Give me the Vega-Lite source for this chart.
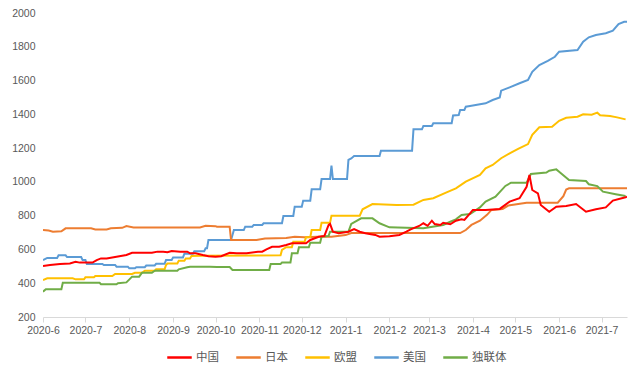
{
"$schema": "https://vega.github.io/schema/vega-lite/v6.json",
"width": 584,
"height": 304,
"autosize": {"type": "none"},
"padding": {"left": 43, "top": 13, "right": 14, "bottom": 60},
"background": "white",
"config": {"view": {"stroke": null}},
"data": {"values": [
{"s":"美国","d":"2020-06-01","v":537},{"s":"美国","d":"2020-06-04","v":550},{"s":"美国","d":"2020-06-11","v":550},{"s":"美国","d":"2020-06-12","v":565},{"s":"美国","d":"2020-06-17","v":565},{"s":"美国","d":"2020-06-18","v":555},{"s":"美国","d":"2020-06-28","v":555},{"s":"美国","d":"2020-06-29","v":537},{"s":"美国","d":"2020-07-01","v":537},{"s":"美国","d":"2020-07-02","v":514},{"s":"美国","d":"2020-07-13","v":514},{"s":"美国","d":"2020-07-14","v":508},{"s":"美国","d":"2020-07-22","v":508},{"s":"美国","d":"2020-07-23","v":498},{"s":"美国","d":"2020-07-31","v":498},{"s":"美国","d":"2020-08-01","v":488},{"s":"美国","d":"2020-08-05","v":488},{"s":"美国","d":"2020-08-06","v":495},{"s":"美国","d":"2020-08-12","v":495},{"s":"美国","d":"2020-08-13","v":505},{"s":"美国","d":"2020-08-19","v":505},{"s":"美国","d":"2020-08-20","v":515},{"s":"美国","d":"2020-08-26","v":515},{"s":"美国","d":"2020-08-27","v":537},{"s":"美国","d":"2020-08-31","v":537},{"s":"美国","d":"2020-09-01","v":553},{"s":"美国","d":"2020-09-08","v":553},{"s":"美国","d":"2020-09-09","v":575},{"s":"美国","d":"2020-09-15","v":575},{"s":"美国","d":"2020-09-16","v":590},{"s":"美国","d":"2020-09-23","v":590},{"s":"美国","d":"2020-09-24","v":607},{"s":"美国","d":"2020-09-25","v":607},{"s":"美国","d":"2020-09-26","v":656},{"s":"美国","d":"2020-10-12","v":656},{"s":"美国","d":"2020-10-14","v":715},{"s":"美国","d":"2020-10-21","v":715},{"s":"美国","d":"2020-10-22","v":735},{"s":"美国","d":"2020-10-27","v":735},{"s":"美国","d":"2020-10-28","v":745},{"s":"美国","d":"2020-11-03","v":745},{"s":"美国","d":"2020-11-04","v":755},{"s":"美国","d":"2020-11-17","v":755},{"s":"美国","d":"2020-11-18","v":798},{"s":"美国","d":"2020-11-25","v":798},{"s":"美国","d":"2020-11-26","v":853},{"s":"美国","d":"2020-12-01","v":853},{"s":"美国","d":"2020-12-02","v":889},{"s":"美国","d":"2020-12-07","v":889},{"s":"美国","d":"2020-12-08","v":956},{"s":"美国","d":"2020-12-14","v":956},{"s":"美国","d":"2020-12-15","v":1017},{"s":"美国","d":"2020-12-21","v":1017},{"s":"美国","d":"2020-12-22","v":1096},{"s":"美国","d":"2020-12-23","v":1017},{"s":"美国","d":"2021-01-02","v":1017},{"s":"美国","d":"2021-01-03","v":1130},{"s":"美国","d":"2021-01-05","v":1139},{"s":"美国","d":"2021-01-07","v":1153},{"s":"美国","d":"2021-01-25","v":1153},{"s":"美国","d":"2021-01-26","v":1185},{"s":"美国","d":"2021-02-17","v":1185},{"s":"美国","d":"2021-02-18","v":1311},{"s":"美国","d":"2021-02-24","v":1311},{"s":"美国","d":"2021-02-25","v":1331},{"s":"美国","d":"2021-03-03","v":1331},{"s":"美国","d":"2021-03-04","v":1347},{"s":"美国","d":"2021-03-17","v":1347},{"s":"美国","d":"2021-03-18","v":1393},{"s":"美国","d":"2021-03-22","v":1396},{"s":"美国","d":"2021-03-23","v":1426},{"s":"美国","d":"2021-03-26","v":1426},{"s":"美国","d":"2021-03-27","v":1445},{"s":"美国","d":"2021-03-30","v":1449},{"s":"美国","d":"2021-04-10","v":1465},{"s":"美国","d":"2021-04-15","v":1485},{"s":"美国","d":"2021-04-20","v":1500},{"s":"美国","d":"2021-04-21","v":1540},{"s":"美国","d":"2021-04-27","v":1560},{"s":"美国","d":"2021-05-04","v":1584},{"s":"美国","d":"2021-05-10","v":1603},{"s":"美国","d":"2021-05-13","v":1652},{"s":"美国","d":"2021-05-18","v":1692},{"s":"美国","d":"2021-05-24","v":1716},{"s":"美国","d":"2021-05-29","v":1741},{"s":"美国","d":"2021-06-01","v":1771},{"s":"美国","d":"2021-06-14","v":1781},{"s":"美国","d":"2021-06-18","v":1830},{"s":"美国","d":"2021-06-22","v":1856},{"s":"美国","d":"2021-06-27","v":1870},{"s":"美国","d":"2021-07-04","v":1880},{"s":"美国","d":"2021-07-09","v":1896},{"s":"美国","d":"2021-07-13","v":1935},{"s":"美国","d":"2021-07-17","v":1948},{"s":"美国","d":"2021-07-19","v":1948},
{"s":"日本","d":"2020-06-01","v":715},{"s":"日本","d":"2020-06-05","v":712},{"s":"日本","d":"2020-06-08","v":705},{"s":"日本","d":"2020-06-14","v":707},{"s":"日本","d":"2020-06-17","v":725},{"s":"日本","d":"2020-07-05","v":725},{"s":"日本","d":"2020-07-08","v":718},{"s":"日本","d":"2020-07-16","v":718},{"s":"日本","d":"2020-07-19","v":725},{"s":"日本","d":"2020-07-27","v":728},{"s":"日本","d":"2020-07-30","v":738},{"s":"日本","d":"2020-08-04","v":730},{"s":"日本","d":"2020-09-20","v":730},{"s":"日本","d":"2020-09-24","v":740},{"s":"日本","d":"2020-10-01","v":738},{"s":"日本","d":"2020-10-02","v":735},{"s":"日本","d":"2020-10-11","v":735},{"s":"日本","d":"2020-10-12","v":656},{"s":"日本","d":"2020-10-30","v":656},{"s":"日本","d":"2020-11-05","v":665},{"s":"日本","d":"2020-11-20","v":668},{"s":"日本","d":"2020-11-26","v":675},{"s":"日本","d":"2020-12-03","v":672},{"s":"日本","d":"2020-12-12","v":675},{"s":"日本","d":"2020-12-22","v":675},{"s":"日本","d":"2021-01-01","v":685},{"s":"日本","d":"2021-01-05","v":697},{"s":"日本","d":"2021-03-23","v":697},{"s":"日本","d":"2021-03-27","v":715},{"s":"日本","d":"2021-03-31","v":745},{"s":"日本","d":"2021-04-06","v":770},{"s":"日本","d":"2021-04-11","v":805},{"s":"日本","d":"2021-04-14","v":833},{"s":"日本","d":"2021-04-22","v":840},{"s":"日本","d":"2021-04-26","v":860},{"s":"日本","d":"2021-05-09","v":877},{"s":"日本","d":"2021-05-31","v":877},{"s":"日本","d":"2021-06-04","v":915},{"s":"日本","d":"2021-06-06","v":955},{"s":"日本","d":"2021-06-08","v":962},{"s":"日本","d":"2021-07-19","v":962},
{"s":"欧盟","d":"2020-06-01","v":419},{"s":"欧盟","d":"2020-06-04","v":429},{"s":"欧盟","d":"2020-06-22","v":429},{"s":"欧盟","d":"2020-06-24","v":423},{"s":"欧盟","d":"2020-06-30","v":423},{"s":"欧盟","d":"2020-07-01","v":435},{"s":"欧盟","d":"2020-07-07","v":435},{"s":"欧盟","d":"2020-07-08","v":443},{"s":"欧盟","d":"2020-07-20","v":443},{"s":"欧盟","d":"2020-07-22","v":455},{"s":"欧盟","d":"2020-08-03","v":455},{"s":"欧盟","d":"2020-08-05","v":462},{"s":"欧盟","d":"2020-08-10","v":462},{"s":"欧盟","d":"2020-08-12","v":474},{"s":"欧盟","d":"2020-08-19","v":474},{"s":"欧盟","d":"2020-08-20","v":482},{"s":"欧盟","d":"2020-08-26","v":482},{"s":"欧盟","d":"2020-08-27","v":508},{"s":"欧盟","d":"2020-08-28","v":517},{"s":"欧盟","d":"2020-09-04","v":517},{"s":"欧盟","d":"2020-09-05","v":533},{"s":"欧盟","d":"2020-09-09","v":533},{"s":"欧盟","d":"2020-09-10","v":547},{"s":"欧盟","d":"2020-09-13","v":547},{"s":"欧盟","d":"2020-09-14","v":561},{"s":"欧盟","d":"2020-09-20","v":563},{"s":"欧盟","d":"2020-11-16","v":565},{"s":"欧盟","d":"2020-11-17","v":597},{"s":"欧盟","d":"2020-11-20","v":613},{"s":"欧盟","d":"2020-11-24","v":613},{"s":"欧盟","d":"2020-11-25","v":646},{"s":"欧盟","d":"2020-12-03","v":646},{"s":"欧盟","d":"2020-12-04","v":672},{"s":"欧盟","d":"2020-12-07","v":672},{"s":"欧盟","d":"2020-12-08","v":715},{"s":"欧盟","d":"2020-12-14","v":715},{"s":"欧盟","d":"2020-12-15","v":758},{"s":"欧盟","d":"2020-12-21","v":758},{"s":"欧盟","d":"2020-12-22","v":800},{"s":"欧盟","d":"2021-01-11","v":800},{"s":"欧盟","d":"2021-01-13","v":838},{"s":"欧盟","d":"2021-01-20","v":869},{"s":"欧盟","d":"2021-02-06","v":863},{"s":"欧盟","d":"2021-02-18","v":865},{"s":"欧盟","d":"2021-02-25","v":893},{"s":"欧盟","d":"2021-03-04","v":903},{"s":"欧盟","d":"2021-03-13","v":936},{"s":"欧盟","d":"2021-03-20","v":962},{"s":"欧盟","d":"2021-03-27","v":1001},{"s":"欧盟","d":"2021-04-06","v":1041},{"s":"欧盟","d":"2021-04-10","v":1080},{"s":"欧盟","d":"2021-04-15","v":1100},{"s":"欧盟","d":"2021-04-21","v":1140},{"s":"欧盟","d":"2021-04-27","v":1169},{"s":"欧盟","d":"2021-05-03","v":1195},{"s":"欧盟","d":"2021-05-10","v":1224},{"s":"欧盟","d":"2021-05-13","v":1278},{"s":"欧盟","d":"2021-05-18","v":1323},{"s":"欧盟","d":"2021-05-27","v":1327},{"s":"欧盟","d":"2021-06-01","v":1362},{"s":"欧盟","d":"2021-06-06","v":1380},{"s":"欧盟","d":"2021-06-14","v":1386},{"s":"欧盟","d":"2021-06-18","v":1400},{"s":"欧盟","d":"2021-06-24","v":1398},{"s":"欧盟","d":"2021-06-28","v":1410},{"s":"欧盟","d":"2021-06-30","v":1395},{"s":"欧盟","d":"2021-07-07","v":1390},{"s":"欧盟","d":"2021-07-12","v":1382},{"s":"欧盟","d":"2021-07-18","v":1370},
{"s":"独联体","d":"2020-06-01","v":350},{"s":"独联体","d":"2020-06-03","v":364},{"s":"独联体","d":"2020-06-14","v":364},{"s":"独联体","d":"2020-06-15","v":403},{"s":"独联体","d":"2020-07-11","v":403},{"s":"独联体","d":"2020-07-12","v":394},{"s":"独联体","d":"2020-07-23","v":394},{"s":"独联体","d":"2020-07-24","v":400},{"s":"独联体","d":"2020-07-30","v":405},{"s":"独联体","d":"2020-08-03","v":439},{"s":"独联体","d":"2020-08-08","v":439},{"s":"独联体","d":"2020-08-10","v":462},{"s":"独联体","d":"2020-08-17","v":462},{"s":"独联体","d":"2020-08-19","v":474},{"s":"独联体","d":"2020-09-04","v":474},{"s":"独联体","d":"2020-09-05","v":482},{"s":"独联体","d":"2020-09-11","v":494},{"s":"独联体","d":"2020-09-13","v":498},{"s":"独联体","d":"2020-09-27","v":498},{"s":"独联体","d":"2020-10-02","v":496},{"s":"独联体","d":"2020-10-11","v":496},{"s":"独联体","d":"2020-10-13","v":478},{"s":"独联体","d":"2020-11-08","v":478},{"s":"独联体","d":"2020-11-09","v":514},{"s":"独联体","d":"2020-11-16","v":514},{"s":"独联体","d":"2020-11-17","v":522},{"s":"独联体","d":"2020-11-23","v":522},{"s":"独联体","d":"2020-11-24","v":577},{"s":"独联体","d":"2020-11-28","v":577},{"s":"独联体","d":"2020-11-29","v":613},{"s":"独联体","d":"2020-12-06","v":613},{"s":"独联体","d":"2020-12-07","v":640},{"s":"独联体","d":"2020-12-14","v":640},{"s":"独联体","d":"2020-12-15","v":675},{"s":"独联体","d":"2020-12-20","v":680},{"s":"独联体","d":"2020-12-21","v":705},{"s":"独联体","d":"2021-01-03","v":705},{"s":"独联体","d":"2021-01-05","v":751},{"s":"独联体","d":"2021-01-12","v":784},{"s":"独联体","d":"2021-01-20","v":784},{"s":"独联体","d":"2021-01-25","v":755},{"s":"独联体","d":"2021-02-01","v":731},{"s":"独联体","d":"2021-02-25","v":725},{"s":"独联体","d":"2021-03-11","v":745},{"s":"独联体","d":"2021-03-16","v":764},{"s":"独联体","d":"2021-03-20","v":778},{"s":"独联体","d":"2021-03-24","v":804},{"s":"独联体","d":"2021-03-30","v":810},{"s":"独联体","d":"2021-04-06","v":849},{"s":"独联体","d":"2021-04-10","v":883},{"s":"独联体","d":"2021-04-17","v":912},{"s":"独联体","d":"2021-04-24","v":976},{"s":"独联体","d":"2021-04-28","v":995},{"s":"独联体","d":"2021-05-09","v":995},{"s":"独联体","d":"2021-05-12","v":1047},{"s":"独联体","d":"2021-05-23","v":1055},{"s":"独联体","d":"2021-05-25","v":1066},{"s":"独联体","d":"2021-05-30","v":1074},{"s":"独联体","d":"2021-06-01","v":1060},{"s":"独联体","d":"2021-06-08","v":1011},{"s":"独联体","d":"2021-06-20","v":1005},{"s":"独联体","d":"2021-06-22","v":986},{"s":"独联体","d":"2021-06-28","v":975},{"s":"独联体","d":"2021-07-02","v":942},{"s":"独联体","d":"2021-07-11","v":927},{"s":"独联体","d":"2021-07-18","v":916},
{"s":"中国","d":"2020-06-01","v":502},{"s":"中国","d":"2020-06-06","v":508},{"s":"中国","d":"2020-06-13","v":514},{"s":"中国","d":"2020-06-20","v":517},{"s":"中国","d":"2020-06-24","v":527},{"s":"中国","d":"2020-06-27","v":522},{"s":"中国","d":"2020-07-06","v":522},{"s":"中国","d":"2020-07-09","v":537},{"s":"中国","d":"2020-07-12","v":547},{"s":"中国","d":"2020-07-16","v":547},{"s":"中国","d":"2020-07-23","v":557},{"s":"中国","d":"2020-07-30","v":567},{"s":"中国","d":"2020-08-03","v":580},{"s":"中国","d":"2020-08-17","v":580},{"s":"中国","d":"2020-08-21","v":587},{"s":"中国","d":"2020-08-25","v":587},{"s":"中国","d":"2020-08-28","v":583},{"s":"中国","d":"2020-08-31","v":591},{"s":"中国","d":"2020-09-06","v":587},{"s":"中国","d":"2020-09-11","v":587},{"s":"中国","d":"2020-09-13","v":577},{"s":"中国","d":"2020-09-17","v":577},{"s":"中国","d":"2020-09-22","v":567},{"s":"中国","d":"2020-09-26","v":560},{"s":"中国","d":"2020-10-01","v":557},{"s":"中国","d":"2020-10-05","v":560},{"s":"中国","d":"2020-10-11","v":580},{"s":"中国","d":"2020-10-16","v":577},{"s":"中国","d":"2020-10-23","v":577},{"s":"中国","d":"2020-10-31","v":587},{"s":"中国","d":"2020-11-03","v":587},{"s":"中国","d":"2020-11-06","v":601},{"s":"中国","d":"2020-11-10","v":616},{"s":"中国","d":"2020-11-15","v":616},{"s":"中国","d":"2020-11-20","v":626},{"s":"中国","d":"2020-11-24","v":636},{"s":"中国","d":"2020-12-04","v":636},{"s":"中国","d":"2020-12-07","v":656},{"s":"中国","d":"2020-12-13","v":675},{"s":"中国","d":"2020-12-17","v":680},{"s":"中国","d":"2020-12-20","v":745},{"s":"中国","d":"2020-12-21","v":751},{"s":"中国","d":"2020-12-23","v":705},{"s":"中国","d":"2020-12-27","v":696},{"s":"中国","d":"2021-01-03","v":705},{"s":"中国","d":"2021-01-07","v":720},{"s":"中国","d":"2021-01-11","v":705},{"s":"中国","d":"2021-01-15","v":696},{"s":"中国","d":"2021-01-22","v":686},{"s":"中国","d":"2021-01-25","v":675},{"s":"中国","d":"2021-02-01","v":678},{"s":"中国","d":"2021-02-08","v":686},{"s":"中国","d":"2021-02-13","v":705},{"s":"中国","d":"2021-02-16","v":719},{"s":"中国","d":"2021-02-22","v":739},{"s":"中国","d":"2021-02-25","v":755},{"s":"中国","d":"2021-02-28","v":740},{"s":"中国","d":"2021-03-03","v":770},{"s":"中国","d":"2021-03-05","v":750},{"s":"中国","d":"2021-03-09","v":745},{"s":"中国","d":"2021-03-11","v":758},{"s":"中国","d":"2021-03-16","v":749},{"s":"中国","d":"2021-03-20","v":770},{"s":"中国","d":"2021-03-24","v":778},{"s":"中国","d":"2021-03-26","v":775},{"s":"中国","d":"2021-03-30","v":814},{"s":"中国","d":"2021-04-01","v":834},{"s":"中国","d":"2021-04-10","v":834},{"s":"中国","d":"2021-04-20","v":840},{"s":"中国","d":"2021-04-27","v":883},{"s":"中国","d":"2021-05-04","v":903},{"s":"中国","d":"2021-05-09","v":971},{"s":"中国","d":"2021-05-11","v":1041},{"s":"中国","d":"2021-05-13","v":952},{"s":"中国","d":"2021-05-17","v":932},{"s":"中国","d":"2021-05-19","v":863},{"s":"中国","d":"2021-05-25","v":823},{"s":"中国","d":"2021-05-30","v":853},{"s":"中国","d":"2021-06-06","v":857},{"s":"中国","d":"2021-06-13","v":869},{"s":"中国","d":"2021-06-20","v":823},{"s":"中国","d":"2021-06-27","v":838},{"s":"中国","d":"2021-07-04","v":849},{"s":"中国","d":"2021-07-09","v":889},{"s":"中国","d":"2021-07-18","v":909},{"s":"中国","d":"2021-07-19","v":912}
]},
"mark": {"type": "line", "strokeWidth": 2, "interpolate": "linear", "clip": true},
"encoding": {
  "x": {"field": "d", "type": "temporal",
    "scale": {"type": "utc", "domain": [{"year":2020,"month":6,"date":1,"utc":true},{"year":2021,"month":7,"date":19,"utc":true}]},
    "axis": {"title": null, "labelExpr": "utcFormat(datum.value, '%Y-%-m')", "grid": false,
      "values": [{"year":2020,"month":6,"date":1,"utc":true},{"year":2020,"month":7,"date":1,"utc":true},{"year":2020,"month":8,"date":1,"utc":true},{"year":2020,"month":9,"date":1,"utc":true},{"year":2020,"month":10,"date":1,"utc":true},{"year":2020,"month":11,"date":1,"utc":true},{"year":2020,"month":12,"date":1,"utc":true},{"year":2021,"month":1,"date":1,"utc":true},{"year":2021,"month":2,"date":1,"utc":true},{"year":2021,"month":3,"date":1,"utc":true},{"year":2021,"month":4,"date":1,"utc":true},{"year":2021,"month":5,"date":1,"utc":true},{"year":2021,"month":6,"date":1,"utc":true},{"year":2021,"month":7,"date":1,"utc":true}],
      "domainColor": "#D9D9D9", "tickColor": "#D9D9D9", "tickSize": 5, "labelPadding": 3,
      "labelColor": "#595959", "labelFont": "Liberation Sans", "labelFontSize": 10.5, "labelAngle": 0, "labelOverlap": false, "labelFlush": false}},
  "y": {"field": "v", "type": "quantitative",
    "scale": {"domain": [200, 2000], "nice": false, "zero": false},
    "axis": {"title": null, "grid": false, "domain": false, "ticks": false, "labelPadding": 8, "format": "d",
      "values": [200,400,600,800,1000,1200,1400,1600,1800,2000],
      "labelColor": "#595959", "labelFont": "Liberation Sans", "labelFontSize": 10.5}},
  "color": {"field": "s", "type": "nominal",
    "scale": {"domain": ["中国","日本","欧盟","美国","独联体"], "range": ["#FF0000","#ED7D31","#FFC000","#5B9BD5","#70AD47"]},
    "legend": {"title": null, "orient": "none", "direction": "horizontal", "legendX": 123, "legendY": 331,
      "symbolType": "stroke", "symbolSize": 600, "symbolStrokeWidth": 2.5, "labelFont": "Noto Sans CJK SC",
      "labelFontSize": 11.5, "labelColor": "#595959", "labelOffset": 3, "columnPadding": 12}},
  "order": {"field": "s", "sort": "descending"}
}
}
